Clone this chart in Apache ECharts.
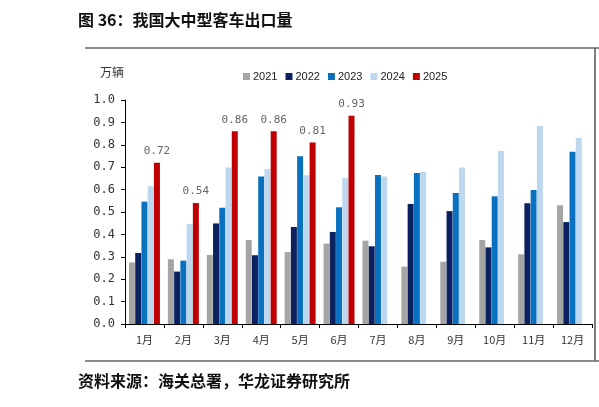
<!DOCTYPE html>
<html style="height: 100%">
<head>
<meta charset="utf-8">
<title>我国大中型客车出口量</title>
<script src="https://cdn.jsdelivr.net/npm/echarts@6/dist/echarts.min.js"></script>
</head>
<body style="height: 100%; margin: 0; background: #fff">
<div id="main" style="width: 599px; height: 407px;"></div>
<script type="text/javascript">
// 月份
var months = ['1月', '2月', '3月', '4月', '5月', '6月', '7月', '8月', '9月', '10月', '11月', '12月'];
// 各年出口量（万辆）
var v2021 = [0.275, 0.289, 0.308, 0.375, 0.321, 0.359, 0.372, 0.256, 0.278, 0.375, 0.311, 0.530];
var v2022 = [0.317, 0.234, 0.449, 0.307, 0.433, 0.411, 0.347, 0.536, 0.504, 0.342, 0.539, 0.455];
var v2023 = [0.546, 0.283, 0.519, 0.659, 0.749, 0.521, 0.665, 0.674, 0.585, 0.570, 0.598, 0.769];
var v2024 = [0.615, 0.446, 0.699, 0.692, 0.664, 0.652, 0.659, 0.679, 0.699, 0.772, 0.884, 0.830];
var v2025 = [0.72, 0.54, 0.86, 0.86, 0.81, 0.93];
var yTicks = [0, 0.1, 0.2, 0.3, 0.4, 0.5, 0.6, 0.7, 0.8, 0.9, 1.0];

var years = ['2021', '2022', '2023', '2024', '2025'];
var values = [v2021, v2022, v2023, v2024, v2025];
var colors = ['#A5A5A5', '#0B2160', '#0A70C0', '#BDD7EE', '#C00000'];

var myChart = echarts.init(document.getElementById('main'));

var series = [];
for (var i = 0; i < years.length; i++) {
    var s = {
        name: years[i],
        type: 'bar',
        barWidth: 6,
        barGap: '4%',
        data: values[i],
        itemStyle: { color: colors[i] }
    };
    if (years[i] === '2025') {
        s.label = {
            show: true,
            position: 'top',
            distance: 6,
            color: '#666',
            fontSize: 11,
            fontFamily: 'DejaVu Sans Mono',
            formatter: function (p) { return p.value.toFixed(2); }
        };
    }
    series.push(s);
}

var option = {
    backgroundColor: '#fff',
    animation: false,
    color: colors,
    legend: {
        data: years,
        left: 238,
        top: 66,
        itemWidth: 7,
        itemHeight: 7,
        itemGap: 8,
        icon: 'rect',
        textStyle: { color: '#222', fontSize: 11, fontFamily: 'Liberation Sans', padding: [0, 0, 0, -2] }
    },
    grid: { left: 125, right: 7, top: 100, bottom: 83 },
    xAxis: {
        type: 'category',
        data: months,
        axisLine: { lineStyle: { color: '#000', width: 1 } },
        axisTick: { show: true, length: 4, alignWithLabel: false, lineStyle: { color: '#000' } },
        axisLabel: { color: '#333', fontSize: 11, margin: 10, fontFamily: 'Noto Sans CJK SC' }
    },
    yAxis: {
        type: 'value',
        min: yTicks[0],
        max: yTicks[yTicks.length - 1],
        interval: 0.1,
        splitLine: { show: false },
        axisLine: { show: true, lineStyle: { color: '#000', width: 1 } },
        axisTick: { show: true, length: 4, lineStyle: { color: '#000' } },
        axisLabel: {
            color: '#333',
            fontSize: 12,
            margin: 10,
            fontFamily: 'DejaVu Sans Mono',
            formatter: function (v) { return v.toFixed(1); }
        }
    },
    graphic: [
        { type: 'text', left: 78, top: 12, style: { text: '图 36：我国大中型客车出口量', font: 'bold 16px "Noto Sans CJK SC"', fill: '#111' } },
        { type: 'line', shape: { x1: 85, y1: 48, x2: 599, y2: 48 }, style: { stroke: '#666', lineWidth: 1.5 } },
        { type: 'line', shape: { x1: 595, y1: 48, x2: 595, y2: 361 }, style: { stroke: '#555', lineWidth: 1.5 } },
        { type: 'line', shape: { x1: 85, y1: 361, x2: 599, y2: 361 }, style: { stroke: '#666', lineWidth: 1.5 } },
        { type: 'text', left: 100, top: 66, style: { text: '万辆', font: '12px "Noto Sans CJK SC"', fill: '#333' } },
        { type: 'text', left: 78, top: 373, style: { text: '资料来源：海关总署，华龙证券研究所', font: 'bold 16px "Noto Sans CJK SC"', fill: '#111' } }
    ],
    series: series
};

myChart.setOption(option, true);
</script>
</body>
</html>
